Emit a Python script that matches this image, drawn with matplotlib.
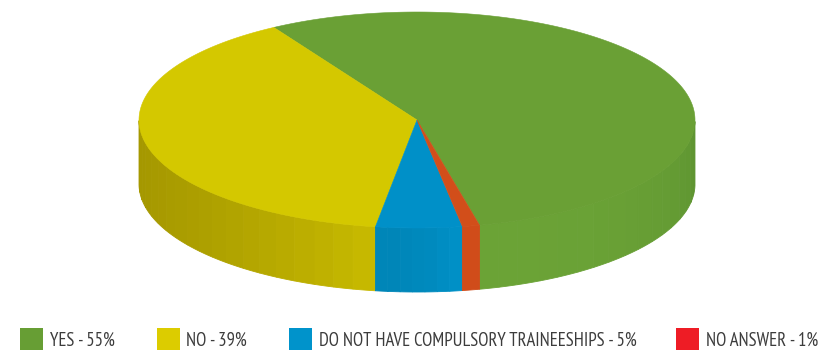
#!/usr/bin/env python3
import numpy as np
import matplotlib
matplotlib.use("Agg")
import matplotlib.pyplot as plt
from matplotlib.patches import Polygon, Rectangle

# slices, in the order they run counter-clockwise round the pie
labels = ["YES", "NO", "DO NOT HAVE COMPULSORY TRAINEESHIPS", "NO ANSWER"]
values = [55, 39, 5, 1]
top_colors = ["#6aa035", "#d4c800", "#0090c8", "#d24e1a"]
swatch_colors = ["#679e34", "#dccc00", "#0093cb", "#ee1c25"]

# wall colours at the left/right end of the visible arc of each slice
wall_left = ["#6ba336", "#a59800", "#0086b8", "#d04c1a"]
wall_right = ["#5e9431", "#c6b800", "#0090c6", "#d04c1a"]

CX, CY = 417, 120
RX, RY = 278, 108
DEPTH = 64
START_ANGLE = 283

swatch_x = [20, 157, 289, 676]
text_x = [50, 186, 319, 706]
LEGEND_FONT = ["PT Sans Narrow", "Roboto Condensed", "Liberation Sans", "DejaVu Sans"]


def rim(t):
    return CX + RX * np.cos(t), CY - RY * np.sin(t)


def mix(c1, c2, f):
    a = np.array(matplotlib.colors.to_rgb(c1))
    b = np.array(matplotlib.colors.to_rgb(c2))
    return tuple(a + (b - a) * f)


fig = plt.figure(figsize=(8.23, 3.5), dpi=100)
ax = fig.add_axes([0, 0, 1, 1])
ax.set_xlim(0, 823)
ax.set_ylim(350, 0)
ax.axis("off")

angle = START_ANGLE
for i, v in enumerate(values):
    sweep = v / sum(values) * 360
    t = np.radians(np.linspace(angle, angle + sweep, 240))

    # wall: only the front half of the rim is visible
    wrapped = np.mod(t, 2 * np.pi)
    visible = np.sort(wrapped[wrapped >= np.pi])
    x0 = rim(visible[0])[0]
    x1 = rim(visible[-1])[0]
    n_bands = max(1, int((x1 - x0) / 12))
    edges = np.linspace(0, len(visible) - 1, n_bands + 1).astype(int)
    for b in range(n_bands):
        seg = visible[edges[b]:edges[b + 1] + 1]
        xs, ys = rim(seg)
        poly = np.column_stack([np.r_[xs, xs[::-1]], np.r_[ys, ys[::-1] + DEPTH]])
        f = (b / max(1, n_bands - 1)) ** 2
        col = mix(wall_left[i], wall_right[i], f)
        ax.add_patch(Polygon(poly, closed=True, fc=col, ec=col, lw=0.6, zorder=2))

    # top face
    xs, ys = rim(t)
    poly = np.column_stack([np.r_[CX, xs], np.r_[CY, ys]])
    ax.add_patch(Polygon(poly, closed=True, fc=top_colors[i], ec=top_colors[i], lw=0.4, zorder=3))
    angle += sweep

# legend row along the bottom
for i, v in enumerate(values):
    ax.add_patch(Rectangle((swatch_x[i], 328), 23, 22, fc=swatch_colors[i], ec="none", zorder=4))
    ax.text(text_x[i], 346, f"{labels[i]} - {v}%", fontsize=13.4, color="#3c3c3c",
            family=LEGEND_FONT, va="baseline", ha="left", zorder=4)

fig.savefig("out.png", dpi=100)
